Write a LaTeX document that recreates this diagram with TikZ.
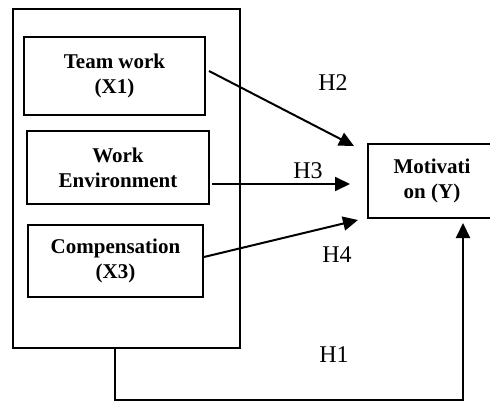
\documentclass[tikz,border=0pt]{standalone}
\usepackage{fontspec}
\setmainfont{Liberation Serif}
\usetikzlibrary{arrows.meta,calc}
\begin{document}
\begin{tikzpicture}[x=1pt,y=-1pt,
  box/.style={draw,line width=2pt,rectangle,inner sep=0pt,align=center,
    font=\fontsize{21}{25}\selectfont\bfseries},
  conn/.style={line width=2pt,-{Triangle[length=15pt,width=14pt]}},
  hlab/.style={anchor=base,inner sep=0pt,font=\fontsize{24}{28}\selectfont}]
\useasboundingbox (0,0) rectangle (490,404);
\node[box,minimum width=227pt,minimum height=339pt] (outer) at (126.5,178.5) {};
\node[box,minimum width=181pt,minimum height=78pt] (team) at (114.5,76) {Team work\\(X1)};
\node[box,minimum width=182pt,minimum height=73pt] (work) at (118,167.5) {Work\\Environment};
\node[box,minimum width=175pt,minimum height=72pt] (comp) at (115.5,261) {Compensation\\(X3)};
\node[box,minimum width=128pt,minimum height=74pt] (motiv) at (432,181) {Motivati\\on (Y)};
\coordinate (t2) at (354,146);
\coordinate (t3) at (350,184);
\coordinate (t4) at (358,220);
\coordinate (h1c) at (463,400);
\draw[conn] ($(team.east)+(3,-5)$) -- (t2);
\draw[conn] ($(work.east)+(2,16.5)$) -- (t3);
\draw[conn] ($(comp.east)+(0,-4)$) -- (t4);
\draw[conn] ($(outer.south)+(-11.5,0)$) |- (h1c) -- ($(motiv.south)+(31,4)$);
\node[hlab] (h2) at (333,91) {H2};
\node[hlab] (h3) at (308,178) {H3};
\node[hlab] (h4) at (337,262) {H4};
\node[hlab] (h1) at (334,362) {H1};
\end{tikzpicture}
\end{document}
